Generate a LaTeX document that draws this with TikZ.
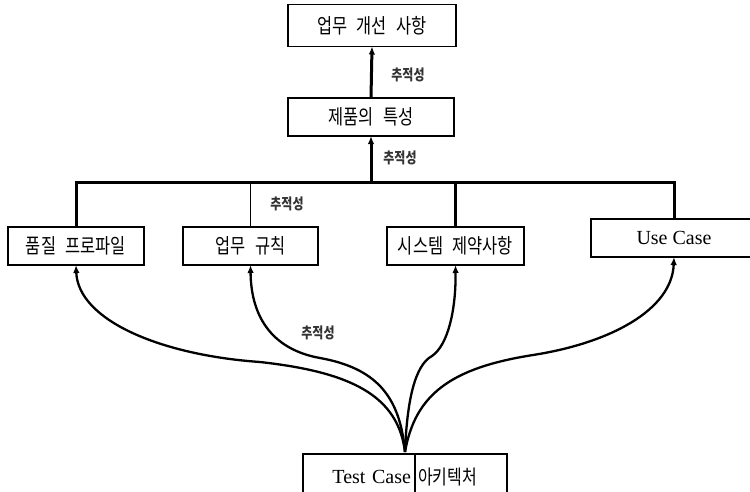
\documentclass[tikz,border=0pt]{standalone}
\usepackage{fontspec}
\setmainfont{Liberation Serif}
\newfontfamily\krfont[FakeStretch=0.8, WordSpace=2.6]{Noto Sans CJK KR}
\usetikzlibrary{arrows.meta,calc}
\tikzset{
  box/.style={draw=black, line width=1.3pt, fill=white, inner sep=3pt, outer sep=0pt,
              minimum height=38pt, font=\krfont\fontsize{20.5}{22}\selectfont},
  latinbox/.style={box, font=\fontsize{20}{22}\selectfont},
  busline/.style={line width=3pt},
  thinline/.style={line width=1.2pt},
  tip/.style={-{Latex[length=8pt,width=6.5pt]}},
  trace/.style={line width=2.3pt, tip},
  tracelabel/.style={font=\krfont\fontsize{15}{16}\selectfont\bfseries, text=black!80, inner sep=1pt}
}
\begin{document}
\begin{tikzpicture}[x=1pt,y=1pt]
  \useasboundingbox (0,0) rectangle (750,-491);
  \clip (0,0) rectangle (750,-491);

  % requirement hierarchy
  \node[box, minimum width=168pt, minimum height=42pt] (imp)  at (372,-25.5) {업무 개선 사항};
  \node[box, minimum width=166pt] (prod) at (371,-117) {제품의 특성};
  \node[box, minimum width=136pt] (qual) at (76,-246) {품질 프로파일};
  \node[box, minimum width=135pt] (rule) at (250.5,-246) {업무 규칙};
  \node[box, minimum width=137pt] (sys)  at (455.5,-246) {시스템 제약사항};
  \node[latinbox, minimum width=166pt] (uc) at (674,-238) {Use Case};

  % test case / architecture box at the bottom
  \node[latinbox, minimum width=112pt, minimum height=46pt, text width=104pt, align=right,
        anchor=north west] (tc) at (303,-454) {Test Case};
  \node[box, minimum width=92pt, minimum height=46pt, text width=86pt, align=left,
        font=\krfont\fontsize{20}{21}\selectfont, anchor=north west] (arch) at (tc.north east) {아키텍처};

  % bus joining the four requirement sources
  \coordinate (hub) at (prod.south |- 0,-182);
  \draw[busline] (qual.north) |- (hub) -| (uc.north);
  \draw[busline] (sys.north) -- (sys.north |- hub);
  \draw[thinline] (rule.north) -- (rule.north |- hub);
  \draw[busline, tip] (hub) -- (prod.south);
  \draw[busline, tip] (prod.north) -- (imp.south);

  % trace links from the test case
  \coordinate (src) at (405,-452);
  \draw[trace] (src) .. controls (398,-395) and (350,-372) .. (260,-362)
                     .. controls (160,-355) and (78,-320) .. (qual.south);
  \draw[trace] (src) .. controls (400,-395) and (375,-368) .. (320,-358)
                     .. controls (275,-350) and (251,-320) .. (rule.south);
  \draw[trace] (src) .. controls (407,-400) and (415,-365) .. (432,-356)
                     .. controls (448,-345) and (456,-310) .. (sys.south);
  \draw[trace] (src) .. controls (415,-395) and (450,-368) .. (533,-355)
                     .. controls (610,-343) and (672,-310) .. (uc.south);

  % labels
  \node[tracelabel] (l1) at (408,-75)  {추적성};
  \node[tracelabel] (l2) at (400,-158) {추적성};
  \node[tracelabel] (l3) at (287,-204) {추적성};
  \node[tracelabel] (l4) at (318,-333) {추적성};
\end{tikzpicture}
\end{document}
